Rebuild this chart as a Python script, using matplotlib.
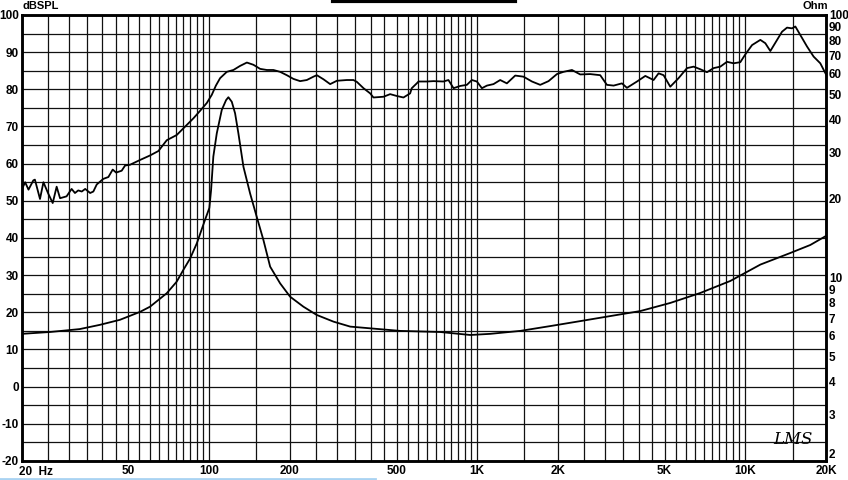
import matplotlib.pyplot as plt
import numpy as np
from matplotlib.lines import Line2D
from matplotlib.ticker import NullLocator

# SPL curve (Hz, dBSPL)
spl_freq = [20, 20.6, 21.2, 22.1, 22.4, 23.4, 24.1, 25.1, 26.1, 27.0, 27.8, 29.4, 30.7, 31.6, 32.5,
            33.5, 34.5, 36.0, 37.0, 38.1, 40.3, 42.1, 43.7, 45.0, 47.2, 48.6, 50.7, 55.3, 60.2, 64.7,
            69.5, 75.7, 80.2, 87.4, 92.5, 98.0, 102.3, 106, 109.9, 116.4, 123.2, 130.5, 138.3, 146.3,
            155.0, 164.2, 173.7, 184.0, 194.9, 206.3, 218.5, 231.4, 245.0, 252.2, 267.0, 282.8, 299.6,
            326.4, 345.4, 355.7, 376.6, 398.8, 410.2, 447.1, 473.5, 501.5, 530.8, 562, 570, 595, 604,
            649, 687, 748, 781, 816, 864, 915, 955, 997, 1041, 1087, 1150, 1218, 1290, 1386, 1488,
            1600, 1718, 1845, 1983, 2098, 2256, 2422, 2638, 2876, 3046, 3226, 3466, 3618, 3944, 4236,
            4548, 4748, 4956, 5248, 5636, 6058, 6412, 6792, 7194, 7614, 8066, 8542, 9040, 9578, 10000,
            10594, 11376, 11874, 12396, 13130, 13706, 14308, 14936, 15366, 16040, 16992, 17978,
            19038, 20000]
spl_db = [53.0, 55.0, 53.0, 55.5, 55.7, 50.5, 55.0, 52.0, 49.4, 53.8, 50.7, 51.2, 53.2, 52.1, 52.8,
          52.5, 53.2, 52.1, 52.5, 54.4, 55.9, 56.4, 58.4, 57.6, 58.1, 59.5, 59.7, 61.0, 62.2, 63.4,
          66.3, 67.7, 69.5, 72.2, 74.2, 76.3, 78.5, 81.0, 83.0, 84.7, 85.2, 86.3, 87.2, 86.6,
          85.5, 85.2, 85.2, 84.7, 83.8, 82.8, 82.2, 82.5, 83.4, 83.8, 82.7, 81.4, 82.3,
          82.5, 82.5, 82.0, 80.3, 78.9, 77.8, 78.0, 78.7, 78.2, 77.8, 78.9, 80.3, 81.6, 82.1,
          82.1, 82.2, 82.1, 82.5, 80.3, 80.9, 81.2, 82.5, 82.1, 80.3, 81.0, 81.4, 82.5, 81.6, 83.7, 83.4,
          82.1, 81.2, 82.2, 84.1, 84.7, 85.2, 84.0, 84.1, 83.8, 81.2, 81.0, 81.6, 80.4, 82.1, 83.6,
          82.5, 84.3, 83.8, 80.7, 83.0, 85.7, 86.1, 85.4, 84.6, 85.7, 86.1, 87.4, 87.0, 87.3, 89.4,
          91.9, 93.3, 92.4, 90.3, 93.3, 95.5, 96.6, 96.4, 96.9, 94.6, 91.5, 88.8,
          87.0, 84.0]

# impedance curve (Hz, Ohm)
imp_freq = [20, 25.5, 32.9, 39.1, 46.5, 55.3, 60.2, 69.5, 75.7, 80.2, 84.9, 90.0, 96.6, 100.2,
            101.7, 103.7, 106.8, 111.5, 115.7, 118.0, 121.5, 125.0, 128.6, 134.3, 142.2, 150.6,
            159.4, 168.9, 184, 200.5, 224.8, 252, 291, 336, 516, 727, 942, 1118, 1447, 1872, 2420,
            3136, 4057, 5250, 6790, 8788, 11380, 14720, 17470, 20000]
imp_ohm = [6.1, 6.2, 6.36, 6.6, 6.9, 7.4, 7.74, 8.71, 9.64, 10.7, 11.8, 13.5, 16.6, 18.4,
           21.5, 28.9, 35.4, 43.5, 47.4, 48.6, 46.7, 42.2, 35.4, 26.4, 20.9, 17.0,
           13.9, 11.0, 9.5, 8.45, 7.74, 7.2, 6.79, 6.5, 6.26, 6.2, 6.04, 6.1, 6.26, 6.53, 6.82,
           7.13, 7.45, 8.0, 8.73, 9.7, 11.2, 12.4, 13.3, 14.4]

freq_ticks = [50, 100, 200, 500, 1000, 2000, 5000, 10000, 20000]
freq_labels = ['50', '100', '200', '500', '1K', '2K', '5K', '10K', '20K']
db_ticks = list(range(-20, 101, 10))
ohm_ticks = [2, 3, 4, 5, 6, 7, 8, 9, 10, 20, 30, 40, 50, 60, 70, 80, 90, 100]

plt.rcParams['font.family'] = ['Liberation Sans', 'DejaVu Sans']
plt.rcParams['axes.unicode_minus'] = False

fig = plt.figure(figsize=(8.48, 4.8), dpi=100)
ax = fig.add_axes([0.0256, 0.0396, 0.9485, 0.9292])

# grid: 20..100 by 5, 100..1K by 50, 1K..10K by 500, 10K..20K by 5K
vlines = np.concatenate([np.arange(20, 100, 5), np.arange(100, 1000, 50),
                         np.arange(1000, 10000, 500), np.arange(10000, 20001, 5000)])
for f in vlines:
    ax.axvline(f, color='#111111', lw=0.9, zorder=1)
for d in np.arange(-20, 101, 5):
    ax.axhline(d, color='#111111', lw=0.9, zorder=1)

ax.plot(spl_freq, spl_db, color='black', lw=1.3, zorder=3)

ax.set_xscale('log')
ax.set_xlim(20, 20000)
ax.set_ylim(-20, 100)
ax.xaxis.set_minor_locator(NullLocator())
ax.set_xticks(freq_ticks)
ax.set_xticklabels(freq_labels)
ax.set_yticks(db_ticks)
ax.tick_params(length=0, labelsize=8.5, pad=2)
ax.tick_params(axis='x', pad=3)
for t in ax.get_xticklabels() + ax.get_yticklabels():
    t.set_fontweight('bold')
ax.text(19.6, -21.3, '20  Hz', ha='left', va='top', fontsize=8.5, fontweight='bold')
for s in ax.spines.values():
    s.set_linewidth(1.8)

ax2 = ax.twinx()
ax2.set_yscale('log')
ax2.set_ylim(2, 100)
ax2.plot(imp_freq, imp_ohm, color='black', lw=1.3, zorder=3)
ax2.set_yticks(ohm_ticks)
ax2.set_yticklabels([str(v) for v in ohm_ticks])
ax2.yaxis.set_minor_locator(NullLocator())
ax2.tick_params(length=0, labelsize=8.5, pad=2)
for t in ax2.get_yticklabels():
    t.set_fontweight('bold')
# the bottom "2" sits just above the 20K label, as in the original
ax2.get_yticklabels()[0].set_verticalalignment('bottom')
for s in ax2.spines.values():
    s.set_linewidth(1.8)

fig.text(0.026, 0.977, 'dBSPL', fontsize=8, fontweight='bold', va='bottom', ha='left')
fig.text(0.976, 0.977, 'Ohm', fontsize=8, fontweight='bold', va='bottom', ha='right')
fig.text(0.935, 0.075, 'LMS', fontsize=12, style='italic', family='DejaVu Serif', ha='center')

fig.add_artist(Line2D([0.393, 0.607], [0.997, 0.997], color='black', lw=3))
fig.add_artist(Line2D([0.0, 0.442], [0.003, 0.003], color='#a9d3f2', lw=2))

fig.savefig('out.png', dpi=100)
